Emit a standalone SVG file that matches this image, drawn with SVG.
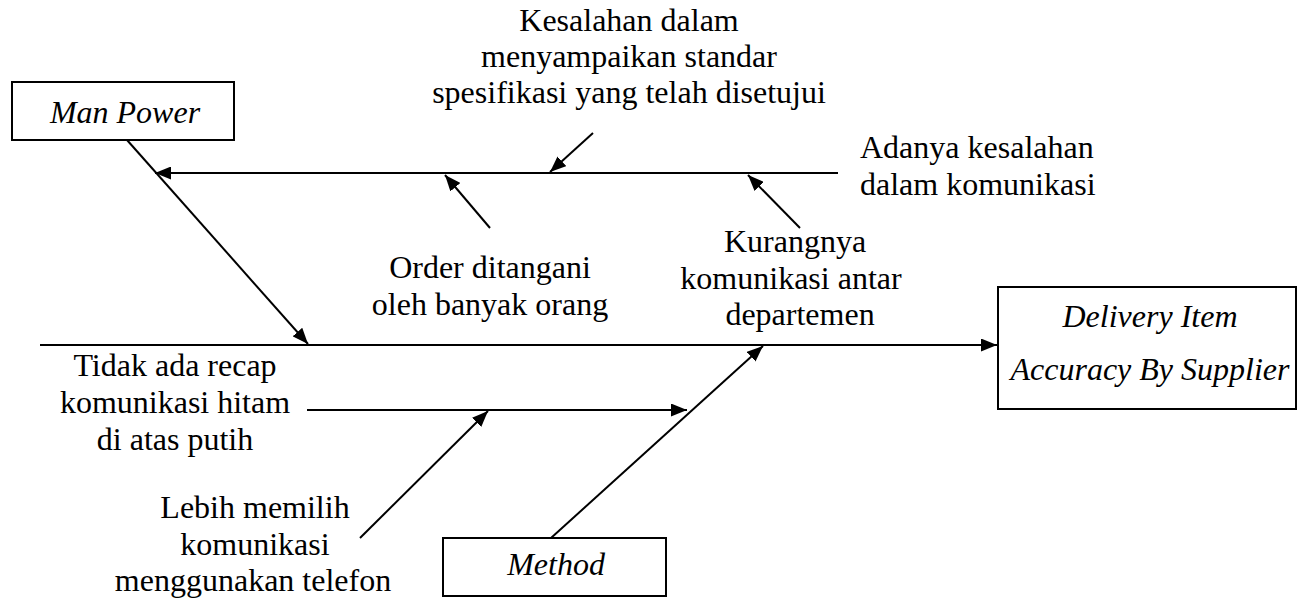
<svg xmlns="http://www.w3.org/2000/svg" width="1298" height="600" viewBox="0 0 1298 600">
<style>
text{font-family:'Liberation Serif','Times New Roman',Times,'DejaVu Serif',serif;font-size:32px;fill:#000;text-anchor:middle}
.i{font-style:italic}
.box{fill:#fff;stroke:#000;stroke-width:2}
.ln{stroke:#000;stroke-width:2;fill:none}
.ar{marker-end:url(#ah)}
</style>
<defs>
<marker id="ah" markerUnits="userSpaceOnUse" markerWidth="17" markerHeight="13" refX="16" refY="6.5" orient="auto">
<path d="M0,0 L16,6.5 L0,13 z" fill="#000"/>
</marker>
</defs>
<rect width="1298" height="600" fill="#fff"/>
<g id="connectors">
<line class="ln ar" x1="40" y1="345" x2="997" y2="345"/>
<line class="ln ar" x1="127" y1="140" x2="308" y2="344"/>
<line class="ln ar" x1="838" y1="173" x2="155" y2="173"/>
<line class="ln ar" x1="593" y1="133" x2="550" y2="172"/>
<line class="ln ar" x1="490" y1="228" x2="445" y2="175"/>
<line class="ln ar" x1="800" y1="228" x2="748" y2="175"/>
<line class="ln ar" x1="307" y1="410" x2="687" y2="410"/>
<line class="ln ar" x1="360" y1="538" x2="488" y2="411"/>
<line class="ln ar" x1="551" y1="538" x2="763" y2="346"/>
</g>
<g id="man-power">
<rect class="box" x="12" y="82" width="222" height="58"/>
<text class="i" x="125" y="123" font-family="Liberation Serif, serif">Man Power</text>
</g>
<g id="delivery">
<rect class="box" x="998" y="287" width="298" height="122"/>
<text class="i" x="1150" y="327" font-family="Liberation Serif, serif">Delivery Item</text>
<text class="i" x="1150" y="380" font-family="Liberation Serif, serif">Accuracy By Supplier</text>
</g>
<g id="method">
<rect class="box" x="443" y="538" width="223" height="58"/>
<text class="i" x="556" y="575" font-family="Liberation Serif, serif">Method</text>
</g>
<g id="cause-kesalahan" font-family="Liberation Serif, serif">
<text x="629" y="31">Kesalahan dalam</text>
<text x="629" y="67">menyampaikan standar</text>
<text x="629" y="103">spesifikasi yang telah disetujui</text>
</g>
<g id="cause-adanya">
<text x="860" y="158" style="text-anchor:start">Adanya kesalahan</text>
<text x="860" y="195" style="text-anchor:start">dalam komunikasi</text>
</g>
<g id="cause-order">
<text x="490" y="278">Order ditangani</text>
<text x="490" y="315">oleh banyak orang</text>
</g>
<g id="cause-kurangnya">
<text x="795" y="252">Kurangnya</text>
<text x="791" y="289">komunikasi antar</text>
<text x="800" y="325">departemen</text>
</g>
<g id="cause-recap">
<text x="175" y="376">Tidak ada recap</text>
<text x="175" y="413">komunikasi hitam</text>
<text x="175" y="450">di atas putih</text>
</g>
<g id="cause-lebih">
<text x="255" y="518">Lebih memilih</text>
<text x="255" y="555">komunikasi</text>
<text x="253" y="591">menggunakan telefon</text>
</g>
</svg>
